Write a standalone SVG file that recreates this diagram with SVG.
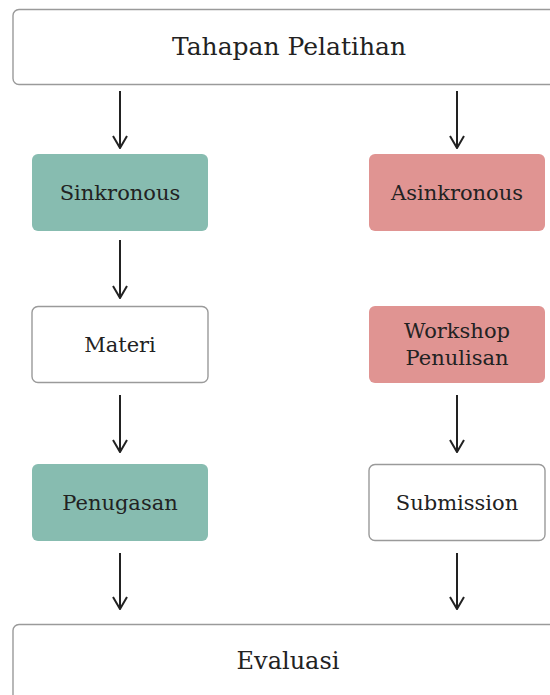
<svg xmlns="http://www.w3.org/2000/svg" width="550" height="695" viewBox="0 0 550 695">
<style>
.box{stroke:#9a9a9a;stroke-width:1.4;fill:#fff}
.g{fill:#87bcb0}
.r{fill:#e09492}
.t{font-family:"DejaVu Serif","Liberation Serif",serif;font-size:21px;fill:#222;text-anchor:middle}
.big{font-size:25px}
.c{stroke:#222;stroke-width:2;fill:none}
</style>
<defs>
<marker id="ah" viewBox="0 0 14 16" refX="13" refY="8" markerWidth="14" markerHeight="16" markerUnits="userSpaceOnUse" orient="auto">
<path d="M1 1 L13 8 L1 15" fill="none" stroke="#222" stroke-width="2"/>
</marker>
</defs>
<g id="tahapan"><rect class="box" x="13" y="9.5" width="560" height="75" rx="6"/><text class="t big" x="289" y="55">Tahapan Pelatihan</text></g>
<g id="sinkronous"><rect class="g" x="32" y="154" width="176" height="77" rx="6"/><text class="t" x="120" y="200">Sinkronous</text></g>
<g id="asinkronous"><rect class="r" x="369" y="154" width="176" height="77" rx="6"/><text class="t" x="457" y="200">Asinkronous</text></g>
<g id="materi"><rect class="box" x="32" y="306.5" width="176" height="76" rx="6"/><text class="t" x="120" y="352">Materi</text></g>
<g id="workshop"><rect class="r" x="369" y="306" width="176" height="77" rx="6"/><text class="t" x="457" y="338">Workshop</text><text class="t" x="457" y="365">Penulisan</text></g>
<g id="penugasan"><rect class="g" x="32" y="464" width="176" height="77" rx="6"/><text class="t" x="120" y="510">Penugasan</text></g>
<g id="submission"><rect class="box" x="369" y="464.5" width="176" height="76" rx="6"/><text class="t" x="457" y="510">Submission</text></g>
<g id="evaluasi"><rect class="box" x="13" y="624.5" width="560" height="100" rx="6"/><text class="t big" x="288" y="669" style="font-size:24px">Evaluasi</text></g>
<g id="connectors">
<line class="c" x1="120" y1="91" x2="120" y2="148" marker-end="url(#ah)"/>
<line class="c" x1="457" y1="91" x2="457" y2="148" marker-end="url(#ah)"/>
<line class="c" x1="120" y1="240" x2="120" y2="298" marker-end="url(#ah)"/>
<line class="c" x1="120" y1="395" x2="120" y2="452" marker-end="url(#ah)"/>
<line class="c" x1="457" y1="395" x2="457" y2="452" marker-end="url(#ah)"/>
<line class="c" x1="120" y1="553" x2="120" y2="609" marker-end="url(#ah)"/>
<line class="c" x1="457" y1="553" x2="457" y2="609" marker-end="url(#ah)"/>
</g>
</svg>
